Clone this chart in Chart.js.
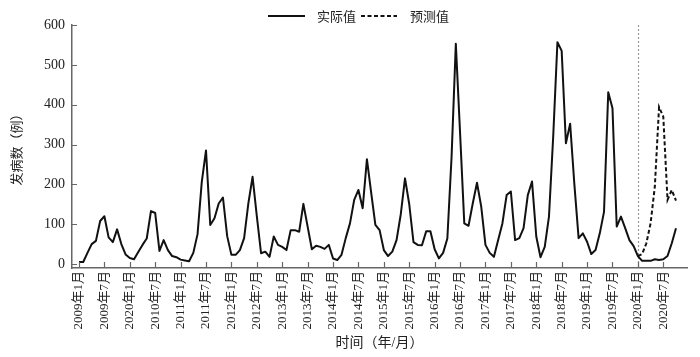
<!DOCTYPE html>
<html>
<head>
<meta charset="utf-8">
<script src="https://cdn.jsdelivr.net/npm/chart.js@4.4.1/dist/chart.umd.min.js"></script>
<style>
html,body{margin:0;padding:0;background:#fff;}
#wrap{width:700px;height:357px;}
</style>
</head>
<body>
<div id="wrap"><canvas id="c" width="700" height="357"></canvas></div>
<script>
// Monthly reported cases, 2009年1月 .. 2020年10月
const actual = [
  5, 5, 28, 50, 58, 108, 120, 67, 55, 87, 50, 24,          // 2009
  15, 12, 30, 48, 64, 133, 128, 33, 60, 35, 20, 17,        // 2010
  11, 9, 7, 28, 75, 206, 285, 98, 115, 152, 167, 70,       // 2011
  23, 23, 35, 65, 152, 219, 120, 27, 31, 18, 69, 48,       // 2012
  43, 35, 85, 85, 81, 151, 94, 37, 46, 43, 38, 48,         // 2013
  14, 10, 23, 65, 102, 161, 186, 140, 263, 180, 98, 85,    // 2014
  35, 20, 31, 60, 125, 215, 150, 55, 48, 47, 82, 82,       // 2015
  37, 14, 28, 64, 270, 553, 330, 102, 96, 152, 204, 144,   // 2016
  48, 28, 18, 60, 102, 173, 182, 60, 65, 90, 173, 207,     // 2017
  69, 17, 43, 119, 320, 557, 535, 303, 352, 200, 65, 77,   // 2018
  56, 25, 35, 77, 131, 431, 391, 94, 119, 90, 60, 45,      // 2019
  20, 8, 8, 8, 12, 10, 12, 20, 52, 90                      // 2020
];
// Forecast values starting at 2020年1月
const forecast = [20, 25, 52, 102, 194, 394, 370, 161, 186, 159];
const forecastStartIndex = 132;
const tickStep = 6;
const tickLabels = [
  "2009年1月","2009年7月","2020年1月","2010年7月","2011年1月","2011年7月",
  "2012年1月","2012年7月","2013年1月","2013年7月","2014年1月","2014年7月",
  "2015年1月","2015年7月","2016年1月","2016年7月","2017年1月","2017年7月",
  "2018年1月","2018年7月","2019年1月","2019年7月","2020年1月","2020年7月"
];
const seriesNames = ["实际值", "预测值"];
const yTitle = "发病数（例）";
const xTitle = "时间（年/月）";

const FONT = '"Liberation Serif", "Noto Sans CJK SC", serif';
const AXIS = '#666';

const decor = {
  id: 'decor',
  beforeDatasetsDraw(chart) {
    const {ctx, chartArea, scales} = chart;
    const x = Math.round(scales.x.getPixelForValue(forecastStartIndex)) + 0.5;
    ctx.save();
    ctx.strokeStyle = '#999';
    ctx.lineWidth = 1.2;
    ctx.setLineDash([2, 2]);
    ctx.beginPath();
    ctx.moveTo(x, chartArea.top);
    ctx.lineTo(x, chartArea.bottom);
    ctx.stroke();
    ctx.restore();
  },
  afterDraw(chart) {
    const {ctx, chartArea, scales} = chart;
    ctx.save();
    ctx.strokeStyle = AXIS;
    ctx.lineWidth = 1.2;
    ctx.beginPath();
    scales.x.ticks.forEach(t => {
      const px = Math.round(scales.x.getPixelForValue(t.value)) + 0.5;
      ctx.moveTo(px, chartArea.bottom);
      ctx.lineTo(px, chartArea.bottom - 6);
    });
    scales.y.ticks.forEach(t => {
      const py = Math.round(scales.y.getPixelForValue(t.value)) + 0.5;
      ctx.moveTo(chartArea.left, py);
      ctx.lineTo(chartArea.left + 5, py);
    });
    ctx.stroke();

    // legend
    const ly = 16;
    ctx.strokeStyle = '#111';
    ctx.lineWidth = 2;
    ctx.setLineDash([]);
    ctx.beginPath(); ctx.moveTo(268, ly); ctx.lineTo(305, ly); ctx.stroke();
    ctx.setLineDash([4, 2.5]);
    ctx.beginPath(); ctx.moveTo(361, ly); ctx.lineTo(397, ly); ctx.stroke();
    ctx.setLineDash([]);
    ctx.fillStyle = '#222';
    ctx.font = '13px "Noto Sans CJK SC"';
    ctx.textBaseline = 'middle';
    ctx.textAlign = 'left';
    ctx.fillText(seriesNames[0], 317, ly);
    ctx.fillText(seriesNames[1], 410, ly);
    ctx.restore();
  }
};

new Chart(document.getElementById('c'), {
  type: 'line',
  data: {
    datasets: [
      {
        label: seriesNames[0],
        data: actual.map((v, i) => ({x: i, y: v})),
        borderColor: '#111',
        borderWidth: 2,
        pointRadius: 0,
        tension: 0,
        fill: false,
        borderJoinStyle: 'round'
      },
      {
        label: seriesNames[1],
        data: forecast.map((v, i) => ({x: forecastStartIndex + i, y: v})),
        borderColor: '#111',
        borderWidth: 2,
        borderDash: [4, 2.5],
        pointRadius: 0,
        tension: 0,
        fill: false
      }
    ]
  },
  options: {
    responsive: false,
    devicePixelRatio: 1,
    animation: false,
    layout: {padding: {top: 25, right: 13, bottom: 0, left: 0}},
    plugins: {legend: {display: false}, tooltip: {enabled: false}},
    scales: {
      x: {
        type: 'linear',
        min: -1.65,
        max: 143.6,
        afterBuildTicks(scale) {
          scale.ticks = tickLabels.map((_, i) => ({value: i * tickStep}));
        },
        afterFit(scale) { scale.height = 89; },
        ticks: {
          autoSkip: false,
          minRotation: 90,
          maxRotation: 90,
          padding: 3,
          color: '#222',
          font: {family: FONT, size: 13},
          callback: (v) => tickLabels[Math.round(v / tickStep)]
        },
        grid: {display: false, drawTicks: false},
        border: {display: true, color: AXIS, width: 1.5},
        title: {
          display: true,
          text: xTitle,
          color: '#222',
          font: {family: FONT, size: 14},
          padding: {top: 0, bottom: 5}
        }
      },
      y: {
        min: -10,
        max: 600,
        afterBuildTicks(scale) {
          const t = [];
          for (let v = 0; v <= 600; v += 100) t.push({value: v});
          scale.ticks = t;
        },
        afterFit(scale) { scale.width = 72; },
        ticks: {
          padding: 7,
          color: '#222',
          font: {family: FONT, size: 14}
        },
        grid: {display: false, drawTicks: false},
        border: {display: true, color: AXIS, width: 1.5},
        title: {
          display: true,
          text: yTitle,
          color: '#222',
          font: {family: FONT, size: 13},
          padding: {top: 10, bottom: 0}
        }
      }
    }
  },
  plugins: [decor]
});
</script>
</body>
</html>
